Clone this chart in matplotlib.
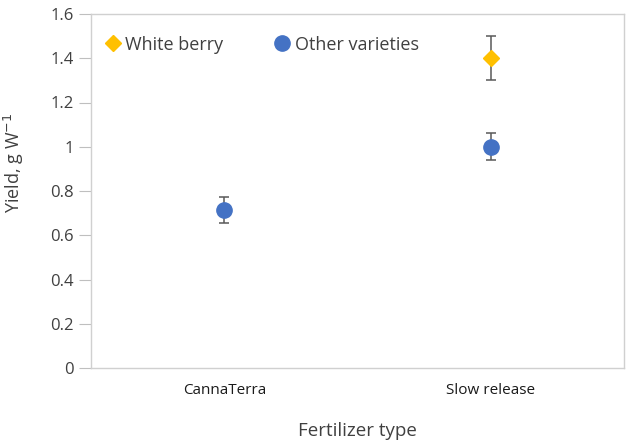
import matplotlib
matplotlib.use("Agg")
import matplotlib.pyplot as plt
from matplotlib.lines import Line2D
import numpy as np

plt.rcParams['font.family'] = ['Open Sans', 'DejaVu Sans']

# ---------------------------------  Data  ---------------------------------
categories = ['CannaTerra', 'Slow release']
white_x = [2]
white_y = [1.40]
white_err = [0.10]
other_x = [1, 2]
other_y = [0.715, 1.00]
other_err = [0.058, 0.06]
y_ticks = [0, 0.2, 0.4, 0.6, 0.8, 1.0, 1.2, 1.4, 1.6]
y_tick_labels = ['0', '0.2', '0.4', '0.6', '0.8', '1', '1.2', '1.4', '1.6']

# ---------------------------------  Figure  ---------------------------------
fig = plt.figure(figsize=(6.3, 4.47), dpi=100)
ax = fig.add_axes([91 / 630, 1 - 368 / 447, 533 / 630, 354 / 447])

ax.errorbar(white_x, white_y, yerr=white_err, fmt='D', color='#FFC000',
            markersize=8.5, ecolor='#595959', elinewidth=1.1, capsize=3.5,
            capthick=1.1, zorder=3)
ax.errorbar(other_x, other_y, yerr=other_err, fmt='o', color='#4472C4',
            markersize=11, ecolor='#595959', elinewidth=1.1, capsize=3.5,
            capthick=1.1, zorder=3)

ax.set_xlim(0.5, 2.5)
ax.set_ylim(0, 1.6)
ax.set_xticks([1, 2])
ax.set_xticklabels(categories, fontsize=11, color='#1a1a1a')
ax.set_yticks(y_ticks)
ax.set_yticklabels(y_tick_labels, fontsize=12, color='#404040')
ax.tick_params(axis='x', length=0, pad=11)
ax.tick_params(axis='y', length=8.5, width=0.8, color='#bfbfbf', pad=4)

for s in ax.spines.values():
    s.set_color('#d0d0d0')
    s.set_linewidth(1.0)

ax.set_xlabel('Fertilizer type', fontsize=13.5, color='#404040', labelpad=17)
ax.set_ylabel('Yield, g W$^{-1}$', fontsize=13, color='#404040')
ax.yaxis.set_label_coords(-0.122, 0.58)

# legend without error bars
handles = [Line2D([], [], marker='D', color='#FFC000', linestyle='', markersize=8.5),
           Line2D([], [], marker='o', color='#4472C4', linestyle='', markersize=11)]
ax.legend(handles, ['White berry', 'Other varieties'], loc='upper left',
          bbox_to_anchor=(-0.012, 0.985), ncol=2, frameon=False, fontsize=13,
          handletextpad=0.05, columnspacing=2.6, handlelength=1.3,
          labelcolor='#404040')

fig.savefig('out.png', dpi=100)
